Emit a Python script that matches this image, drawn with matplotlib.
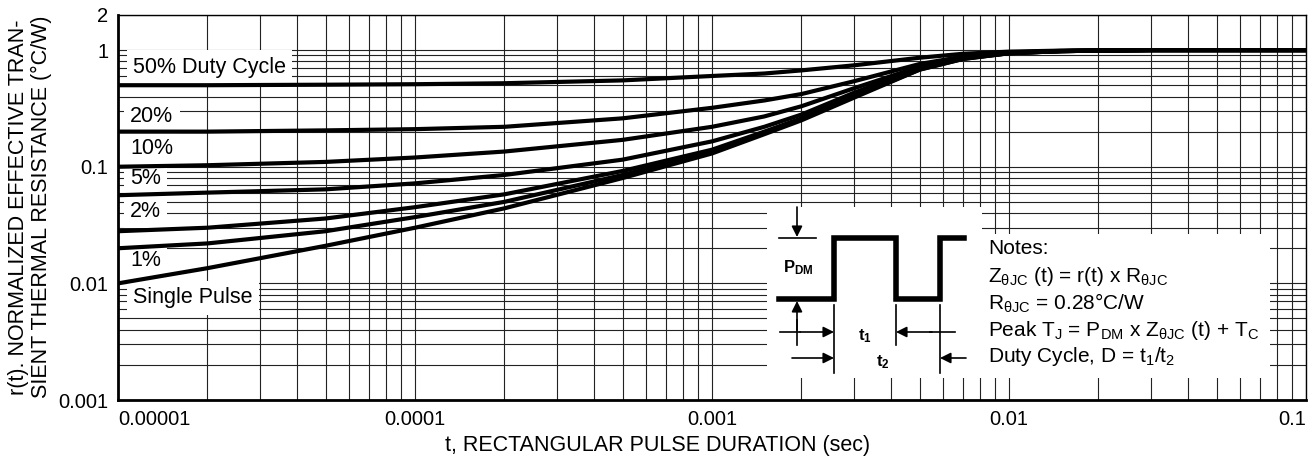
import matplotlib
matplotlib.use('Agg')
import matplotlib.pyplot as plt
from matplotlib.ticker import LogLocator, NullFormatter
from matplotlib.patches import Rectangle

plt.rcParams['font.family'] = ['Liberation Sans', 'DejaVu Sans']
plt.rcParams['mathtext.fontset'] = 'custom'
plt.rcParams['mathtext.rm'] = 'Liberation Sans'
plt.rcParams['mathtext.it'] = 'Liberation Sans:italic'
plt.rcParams['mathtext.bf'] = 'Liberation Sans:bold'

# pulse duration (sec)
t = [1e-5, 2e-5, 5e-5, 1e-4, 2e-4, 5e-4, 1e-3, 1.5e-3, 2e-3, 3e-3,
     5e-3, 7e-3, 1e-2, 1.5e-2, 2e-2, 3e-2, 5e-2, 1e-1]

# r(t) for each duty cycle
d50 = [0.5, 0.5, 0.505, 0.51, 0.52, 0.55, 0.6, 0.63, 0.67, 0.74,
       0.86, 0.93, 0.97, 0.99, 0.995, 1.0, 1.0, 1.0]
d20 = [0.2, 0.2, 0.205, 0.21, 0.22, 0.26, 0.32, 0.37, 0.42, 0.54,
       0.76, 0.88, 0.955, 0.985, 0.995, 1.0, 1.0, 1.0]
d10 = [0.1, 0.103, 0.11, 0.12, 0.135, 0.17, 0.22, 0.27, 0.33, 0.47,
       0.72, 0.86, 0.95, 0.98, 0.99, 1.0, 1.0, 1.0]
d5 = [0.057, 0.06, 0.064, 0.072, 0.085, 0.115, 0.165, 0.22, 0.28, 0.43,
      0.7, 0.85, 0.945, 0.98, 0.99, 1.0, 1.0, 1.0]
d2 = [0.028, 0.030, 0.036, 0.045, 0.058, 0.092, 0.14, 0.2, 0.26, 0.41,
      0.69, 0.85, 0.94, 0.98, 0.99, 1.0, 1.0, 1.0]
d1 = [0.02, 0.022, 0.028, 0.037, 0.05, 0.085, 0.135, 0.195, 0.255, 0.4,
      0.68, 0.84, 0.94, 0.98, 0.99, 1.0, 1.0, 1.0]
single = [0.01, 0.0135, 0.021, 0.03, 0.044, 0.08, 0.13, 0.19, 0.25, 0.39,
          0.68, 0.84, 0.94, 0.98, 0.99, 1.0, 1.0, 1.0]

curves = [d50, d20, d10, d5, d2, d1, single]
labels = ['50% Duty Cycle', '20%', '10%', '5%', '2%', '1%', 'Single Pulse']

xticks = [1e-5, 1e-4, 1e-3, 1e-2, 1e-1]
xticklabels = ['0.00001', '0.0001', '0.001', '0.01', '0.1']
yticks = [0.001, 0.01, 0.1, 1, 2]
yticklabels = ['0.001', '0.01', '0.1', '1', '2']

W, H = 1315, 467
fig = plt.figure(figsize=(W / 100, H / 100), dpi=100)
ax = fig.add_axes([118 / W, 1 - 400 / H, (1306 - 118) / W, (400 - 15) / H])
ax.set_xscale('log')
ax.set_yscale('log')
ax.set_xlim(1e-5, 1e-1)
ax.set_ylim(0.001, 2)

for c in curves:
    ax.plot(t, c, color='black', lw=3, solid_capstyle='butt',
            solid_joinstyle='round', zorder=4)

ax.xaxis.set_minor_locator(LogLocator(base=10, subs=range(2, 10), numticks=20))
ax.yaxis.set_minor_locator(LogLocator(base=10, subs=range(2, 10), numticks=20))
ax.xaxis.set_minor_formatter(NullFormatter())
ax.yaxis.set_minor_formatter(NullFormatter())
ax.grid(True, which='both', color='#222222', lw=0.8, zorder=1)
ax.set_axisbelow(True)
ax.tick_params(which='both', length=0, labelsize=14.5, pad=7)

ax.set_xticks(xticks)
ax.set_xticklabels(xticklabels)
ax.set_yticks(yticks)
ax.set_yticklabels(yticklabels)
tl = ax.get_xticklabels()
tl[0].set_ha('left')
tl[-1].set_ha('right')

for s in ['left', 'bottom']:
    ax.spines[s].set_linewidth(2)
for s in ['top', 'right']:
    ax.spines[s].set_linewidth(1)

# curve labels (positions in pixels of the original)
lab_pos = [(133, 67), (130, 116), (130, 148), (130, 178), (130, 211), (130, 260), (133, 298)]
for txt, (px, py) in zip(labels, lab_pos):
    ax.text(px / W, 1 - py / H, txt, transform=fig.transFigure, fontsize=15.5,
            ha='left', va='center', zorder=3,
            bbox=dict(boxstyle='square,pad=0.3', fc='white', ec='none'))

fig.text(658 / W, 1 - 446 / H, 't, RECTANGULAR PULSE DURATION (sec)',
         ha='center', va='center', fontsize=15.5)
fig.text(30 / W, 1 - 207 / H,
         'r(t). NORMALIZED EFFECTIVE TRAN-\nSIENT THERMAL RESISTANCE (°C/W)',
         rotation=90, ha='center', va='center', fontsize=15.5, linespacing=1.1)

# inset: pulse diagram and notes, drawn in pixel coordinates
ov = fig.add_axes([0, 0, 1, 1], zorder=5)
ov.set_xlim(0, W)
ov.set_ylim(H, 0)
ov.axis('off')
ov.patch.set_alpha(0)

ov.add_patch(Rectangle((767, 207), 215, 171, fc='white', ec='none'))
ov.add_patch(Rectangle((980, 234), 290, 144, fc='white', ec='none'))

ov.plot([779, 834, 834, 896, 896, 940, 940, 964],
        [299, 299, 238, 238, 299, 299, 238, 238], color='black', lw=4,
        solid_joinstyle='miter')
ov.plot([779, 816], [238, 238], color='black', lw=1.2)
ov.plot([834, 834], [305, 373], color='black', lw=1.2)
ov.plot([896, 896], [305, 345], color='black', lw=1.2)
ov.plot([940, 940], [305, 373], color='black', lw=1.2)
ov.plot([797, 797], [345, 320], color='black', lw=1.2)
ov.plot([780, 800], [332, 332], color='black', lw=1.2)
ov.plot([930, 955], [332, 332], color='black', lw=1.2)

arrow = dict(arrowstyle='-|>', color='black', lw=1.2, mutation_scale=16,
             shrinkA=0, shrinkB=0)
ov.annotate('', xy=(797, 237), xytext=(797, 207), arrowprops=arrow)
ov.annotate('', xy=(797, 301), xytext=(797, 330), arrowprops=arrow)
ov.annotate('', xy=(834, 332), xytext=(800, 332), arrowprops=arrow)
ov.annotate('', xy=(896, 332), xytext=(932, 332), arrowprops=arrow)
ov.annotate('', xy=(834, 358), xytext=(792, 358), arrowprops=arrow)
ov.annotate('', xy=(940, 358), xytext=(966, 358), arrowprops=arrow)

ov.text(783, 268, r'$\mathbf{P_{DM}}$', fontsize=12, ha='left', va='center')
ov.text(858, 336, r'$\mathbf{t_1}$', fontsize=12, ha='left', va='center')
ov.text(876, 362, r'$\mathbf{t_2}$', fontsize=12, ha='left', va='center')

notes = ['Notes:',
         r'Z$_{\mathrm{\theta JC}}$ (t) = r(t) x R$_{\mathrm{\theta JC}}$',
         r'R$_{\mathrm{\theta JC}}$ = 0.28°C/W',
         r'Peak T$_{\mathrm{J}}$ = P$_{\mathrm{DM}}$ x Z$_{\mathrm{\theta JC}}$ (t) + T$_{\mathrm{C}}$',
         r'Duty Cycle, D = t$_{1}$/t$_{2}$']
for i, line in enumerate(notes):
    ov.text(988, 249 + i * 27, line, fontsize=15, ha='left', va='center')

fig.savefig('out.png', dpi=100)
